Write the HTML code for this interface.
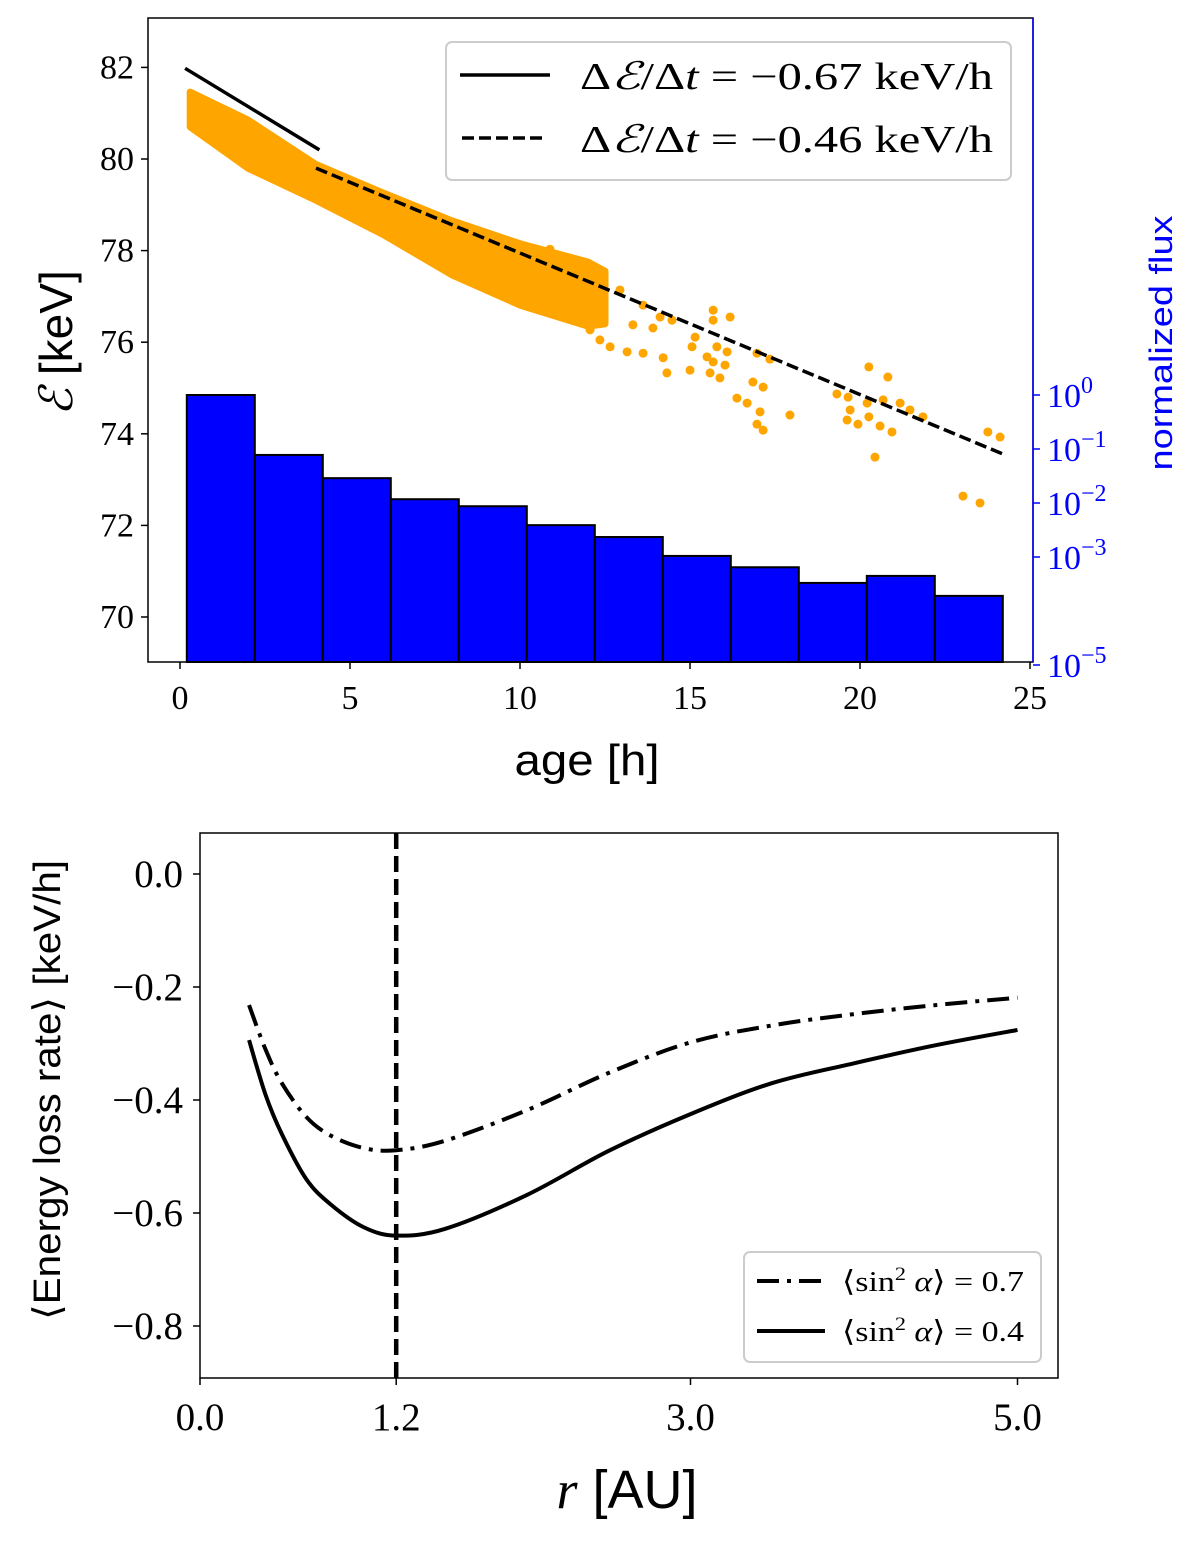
<!DOCTYPE html>
<html><head><meta charset="utf-8">
<style>
html,body{margin:0;padding:0;background:#fff;}
svg{display:block;}
.serif{font-family:"Liberation Serif","DejaVu Serif",serif;}
.sans{font-family:"Liberation Sans","DejaVu Sans",sans-serif;}
</style></head>
<body>
<svg id="fig" width="1200" height="1541" viewBox="0 0 1200 1541" xmlns="http://www.w3.org/2000/svg">
<g id="topPanel"></g>
<g id="botPanel"></g>
</svg>
<script>
// ---------- TOP PANEL DATA ----------
const binLefts = [0.2,2.2,4.2,6.2,8.2,10.2,12.2,14.2,16.2,18.2,20.2,22.2];
const binExp = [0,-1.11,-1.54,-1.93,-2.06,-2.41,-2.63,-2.98,-3.19,-3.48,-3.35,-3.72];
const bandAge = [0.3,2.0,4.0,6.0,8.0,10.0,12.0,12.5];
const bandUpper = [81.46,80.85,79.88,79.25,78.65,78.15,77.75,77.55];
const bandLower = [80.70,79.80,79.10,78.34,77.47,76.81,76.35,76.4];
const scatAge = [10.88,11.09,11.41,12.35,12.94,13.62,14.12,14.47,15.68,16.18,15.68,15.15,15.06,15.79,16.09,15.5,15.68,16.03,15.0,15.59,15.88,14.32,14.21,13.62,13.15,12.35,12.65,12.06,13.32,13.91,16.97,17.35,16.85,17.15,16.38,16.68,17.06,16.97,17.15,17.94,20.26,20.82,19.32,19.65,20.21,19.71,19.62,19.94,20.26,20.59,20.94,20.44,20.68,21.18,21.47,21.85,23.76,24.12,23.03,23.53];
const scatE = [78.03,77.88,77.69,77.36,77.14,76.81,76.55,76.48,76.7,76.55,76.48,76.11,75.9,75.9,75.79,75.68,75.57,75.5,75.39,75.33,75.22,75.33,75.66,75.76,75.79,76.05,75.9,76.27,76.38,76.31,75.76,75.63,75.13,75.02,74.78,74.67,74.48,74.21,74.08,74.41,75.46,75.24,74.87,74.8,74.67,74.52,74.3,74.21,74.37,74.17,74.04,73.49,74.74,74.67,74.52,74.37,74.04,73.93,72.64,72.49];
const solidFit = [[0.15,81.98],[4.1,80.2]];
const dashFit = [[4.0,79.8],[24.2,73.56]];
const xTicks = [0,5,10,15,20,25];
const yTicks = [70,72,74,76,78,80,82];
const rExp = [0,-1,-2,-3,-5];
const rLabels = ["10","10","10","10","10"];
const rSup = ["0","−1","−2","−3","−5"];

// ---------- BOTTOM PANEL DATA ----------
const rVals = [0.3,0.4,0.5,0.65,0.8,1.0,1.2,1.5,2.0,2.5,3.0,3.5,4.0,4.5,5.0];
const loss07 = [-0.232,-0.31,-0.37,-0.43,-0.463,-0.485,-0.489,-0.472,-0.418,-0.352,-0.298,-0.268,-0.248,-0.232,-0.219];
const loss04 = [-0.294,-0.39,-0.46,-0.54,-0.585,-0.625,-0.64,-0.628,-0.568,-0.49,-0.425,-0.37,-0.335,-0.303,-0.276];
const bxTicks = [0.0,1.2,3.0,5.0];
const byTicks = [0.0,-0.2,-0.4,-0.6,-0.8];
const vLineR = 1.2;

const NS="http://www.w3.org/2000/svg";
function mk(parent,tag,attrs,text){const e=document.createElementNS(NS,tag);for(const k in attrs)e.setAttribute(k,attrs[k]);if(text!==undefined)e.textContent=text;parent.appendChild(e);return e;}

// ---- top axes ----
const T={x0:148,x1:1033,y0:18,y1:662};
const tx=a=>180+a*34;
const ty=e=>617-(e-70)*45.8;
const tyr=p=>395-p*54;
const topG=document.getElementById('topPanel');

binLefts.forEach((b,i)=>{
  const r=mk(topG,'rect',{x:tx(b),y:tyr(binExp[i]),width:tx(b+2)-tx(b),height:T.y1-tyr(binExp[i]),fill:'#0000ff',stroke:'#000','stroke-width':2});
  
  
});
let pts=bandAge.map((a,i)=>tx(a)+','+ty(bandUpper[i]));
for(let i=bandAge.length-1;i>=0;i--)pts.push(tx(bandAge[i])+','+ty(bandLower[i]));
const band=mk(topG,'polygon',{points:pts.join(' '),fill:'#ffa500',stroke:'#ffa500','stroke-width':7,'stroke-linejoin':'round'});


scatAge.forEach((a,i)=>{
  const c=mk(topG,'circle',{cx:tx(a),cy:ty(scatE[i]),r:4.5,fill:'#ffa500'});
  
  
});
const l1=mk(topG,'line',{x1:tx(solidFit[0][0]),y1:ty(solidFit[0][1]),x2:tx(solidFit[1][0]),y2:ty(solidFit[1][1]),stroke:'#000','stroke-width':3.5});


const l2=mk(topG,'line',{x1:tx(dashFit[0][0]),y1:ty(dashFit[0][1]),x2:tx(dashFit[1][0]),y2:ty(dashFit[1][1]),stroke:'#000','stroke-width':3.5,'stroke-dasharray':'12 5'});


const fr=mk(topG,'rect',{x:T.x0,y:T.y0,width:T.x1-T.x0,height:T.y1-T.y0,fill:'none',stroke:'#000','stroke-width':1.5});


mk(topG,'line',{x1:T.x1,y1:T.y0,x2:T.x1,y2:T.y1,stroke:'#0000ff','stroke-width':1.5});
xTicks.forEach(v=>{
  mk(topG,'line',{x1:tx(v),y1:T.y1,x2:tx(v),y2:T.y1+7,stroke:'#000','stroke-width':1.5});
  const t=mk(topG,'text',{x:tx(v),y:T.y1+47,'font-size':34,'text-anchor':'middle',class:'serif'},String(v));
  
  
});
yTicks.forEach(v=>{
  mk(topG,'line',{x1:T.x0-7,y1:ty(v),x2:T.x0,y2:ty(v),stroke:'#000','stroke-width':1.5});
  const t=mk(topG,'text',{x:T.x0-14,y:ty(v)+11,'font-size':34,'text-anchor':'end',class:'serif'},String(v));
  
  
});
rExp.forEach((p,i)=>{
  mk(topG,'line',{x1:T.x1,y1:tyr(p),x2:T.x1+7,y2:tyr(p),stroke:'#0000ff','stroke-width':1.5});
  const t=mk(topG,'text',{x:T.x1+14,y:tyr(p)+12,'font-size':34,fill:'#0000ff',class:'serif'});
  
  
  mk(t,'tspan',{},rLabels[i]);
  mk(t,'tspan',{dy:-14,'font-size':24},rSup[i]);
});
let tt=mk(topG,'text',{x:587,y:775,'font-size':44,'text-anchor':'middle',class:'sans',textLength:145,lengthAdjust:'spacingAndGlyphs'},'age [h]');

tt=mk(topG,'text',{transform:'translate(72,343) rotate(-90)','font-size':46,'text-anchor':'middle',class:'serif'});

mk(tt,'tspan',{'font-style':'italic','font-family':'"Liberation Serif",serif'},'ℰ');
mk(tt,'tspan',{'font-family':'"Liberation Sans",sans-serif'},' [keV]');
tt=mk(topG,'text',{transform:'translate(1172,343) rotate(-90)','font-size':32,'text-anchor':'middle',fill:'#0000ff',class:'sans',textLength:255,lengthAdjust:'spacingAndGlyphs'},'normalized flux');

const lg=mk(topG,'g',{});

mk(lg,'rect',{x:446,y:42,width:565,height:138,rx:6,fill:'#fff',stroke:'#ccc','stroke-width':2});
mk(lg,'line',{x1:460,y1:75,x2:550,y2:75,stroke:'#000','stroke-width':3.5});
mk(lg,'line',{x1:462,y1:138,x2:546,y2:138,stroke:'#000','stroke-width':3.5,'stroke-dasharray':'12 5'});
[['−0.67',89],['−0.46',152]].forEach(([v,y])=>{
  const e=mk(lg,'text',{x:580,y:y,'font-size':38,class:'serif',textLength:413,lengthAdjust:'spacingAndGlyphs'});
  
  mk(e,'tspan',{},'Δ');mk(e,'tspan',{'font-style':'italic'},'ℰ');mk(e,'tspan',{},'/Δ');mk(e,'tspan',{'font-style':'italic'},'t');
  mk(e,'tspan',{},' = '+v+' keV/h');
});

// ---- bottom axes ----
const B={x0:200,x1:1058,y0:833,y1:1378};
const bx=r=>200+r*163.5;
const by=v=>874-v*565;
const botG=document.getElementById('botPanel');
function smoothPath(xs,ys){
  const P=xs.map((x,i)=>[bx(x),by(ys[i])]);
  let d='M'+P[0][0]+','+P[0][1];
  for(let i=0;i<P.length-1;i++){
    const p0=P[Math.max(0,i-1)],p1=P[i],p2=P[i+1],p3=P[Math.min(P.length-1,i+2)];
    const c1=[p1[0]+(p2[0]-p0[0])/6,p1[1]+(p2[1]-p0[1])/6];
    const c2=[p2[0]-(p3[0]-p1[0])/6,p2[1]-(p3[1]-p1[1])/6];
    d+=' C'+c1[0]+','+c1[1]+' '+c2[0]+','+c2[1]+' '+p2[0]+','+p2[1];
  }
  return d;
}
let pp=mk(botG,'path',{d:smoothPath(rVals,loss07),fill:'none',stroke:'#000','stroke-width':4,'stroke-dasharray':'22 8 4 8'});

pp=mk(botG,'path',{d:smoothPath(rVals,loss04),fill:'none',stroke:'#000','stroke-width':4});

pp=mk(botG,'line',{x1:bx(vLineR),y1:B.y0,x2:bx(vLineR),y2:B.y1,stroke:'#000','stroke-width':4.5,'stroke-dasharray':'16 7'});

pp=mk(botG,'rect',{x:B.x0,y:B.y0,width:B.x1-B.x0,height:B.y1-B.y0,fill:'none',stroke:'#000','stroke-width':1.5});

bxTicks.forEach(v=>{
  mk(botG,'line',{x1:bx(v),y1:B.y1,x2:bx(v),y2:B.y1+7,stroke:'#000','stroke-width':1.5});
  const e=mk(botG,'text',{x:bx(v),y:B.y1+52,'font-size':39,'text-anchor':'middle',class:'serif'},v.toFixed(1));
  
});
byTicks.forEach(v=>{
  mk(botG,'line',{x1:B.x0-7,y1:by(v),x2:B.x0,y2:by(v),stroke:'#000','stroke-width':1.5});
  const e=mk(botG,'text',{x:B.x0-17,y:by(v)+13,'font-size':39,'text-anchor':'end',class:'serif'},(v<0?'−':'')+Math.abs(v).toFixed(1));
  
});
tt=mk(botG,'text',{x:627,y:1508,'font-size':54,'text-anchor':'middle'});

mk(tt,'tspan',{'font-style':'italic','font-family':'"Liberation Serif",serif'},'r');
mk(tt,'tspan',{'font-family':'"Liberation Sans",sans-serif'},'  [AU]');
tt=mk(botG,'text',{transform:'translate(60,1090) rotate(-90)','font-size':38,'text-anchor':'middle',class:'sans',textLength:460,lengthAdjust:'spacingAndGlyphs'},'⟨Energy loss rate⟩ [keV/h]');

const lg2=mk(botG,'g',{});

mk(lg2,'rect',{x:744,y:1252,width:297,height:110,rx:6,fill:'#fff',stroke:'#ccc','stroke-width':2});
mk(lg2,'line',{x1:757,y1:1281,x2:825,y2:1281,stroke:'#000','stroke-width':4,'stroke-dasharray':'22 8 4 8'});
mk(lg2,'line',{x1:757,y1:1331,x2:825,y2:1331,stroke:'#000','stroke-width':4});
[['0.7',1291],['0.4',1341]].forEach(([v,y])=>{
  const e=mk(lg2,'text',{x:842,y:y,'font-size':29,class:'serif',textLength:182,lengthAdjust:'spacingAndGlyphs'});
  
  mk(e,'tspan',{},'⟨sin');mk(e,'tspan',{dy:-11,'font-size':19},'2');
  mk(e,'tspan',{dy:11,'font-style':'italic'},' α');mk(e,'tspan',{},'⟩ = '+v);
});
</script>
</body></html>
